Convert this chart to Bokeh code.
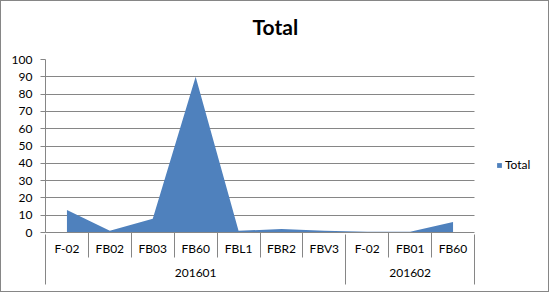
from bokeh.plotting import figure
from bokeh.models import (Range1d, FixedTicker, LinearAxis, Legend, LegendItem, Title)
from bokeh.embed import file_html
from bokeh.resources import INLINE

# ---- data ----
groups = ["201601", "201602"]
group_sizes = [7, 3]
codes = ["F-02", "FB02", "FB03", "FB60", "FBL1", "FBR2", "FBV3", "F-02", "FB01", "FB60"]
totals = [13, 1, 8, 90, 1, 2, 1, 0.5, 0.5, 6]
y_ticks = [0, 10, 20, 30, 40, 50, 60, 70, 80, 90, 100]
series_name = "Total"
chart_title = "Total"

FONT = "Lato"
GRAY = "#868686"
BLUE = "#4F81BD"

n = len(codes)
xs = [i + 0.5 for i in range(n)]

# layout: plot area 429px wide for the categories, frame extended to hold the legend
CAT_PX = 429
FRAME_PX = 501
x_end = n * FRAME_PX / CAT_PX

p = figure(width=549, height=292, output_backend="svg", toolbar_location=None,
           x_range=Range1d(0, x_end), y_range=Range1d(0, 100),
           min_border_left=44, min_border_right=4, min_border_top=58,
           min_border_bottom=61, x_axis_location=None)
p.styles = {"border": "1px solid " + GRAY}
p.outline_line_color = None
p.background_fill_color = "white"
p.border_fill_color = "white"

# real title (outermost) and a spacer title nearest the frame
p.title.text = chart_title
p.title.text_font = FONT
p.title.text_font_size = "21px"
p.title.text_font_style = "bold"
p.title.text_color = "black"
p.title.align = "left"
p.title.offset = 207
p.title.standoff = 0
spacer = Title(text=" ", text_font_size="10px", standoff=8)
p.add_layout(spacer, "above")

r = p.varea(x=xs, y1=[0] * n, y2=totals, fill_color=BLUE)

# y axis
ya = p.yaxis[0]
ya.ticker = FixedTicker(ticks=y_ticks)
ya.axis_line_color = GRAY
ya.major_tick_line_color = GRAY
ya.major_tick_out = 5
ya.major_tick_in = 0
ya.minor_tick_line_color = None
ya.major_label_text_font = FONT
ya.major_label_text_font_size = "12px"
ya.major_label_text_color = "black"
ya.major_label_standoff = 8
p.ygrid.ticker = FixedTicker(ticks=y_ticks)
p.ygrid.grid_line_color = GRAY
p.xgrid.grid_line_color = None
try:
    p.ygrid.cross_bounds = (0, n)
except Exception:
    p.ygrid.grid_line_color = None
    p.segment(x0=[0] * len(y_ticks), x1=[n] * len(y_ticks), y0=y_ticks, y1=y_ticks,
              line_color=GRAY, line_width=1)

# category axis
boundaries = list(range(n + 1))
cum = [0]
for s in group_sizes:
    cum.append(cum[-1] + s)
inner_bounds = [b for b in boundaries if b not in cum]

ax1 = LinearAxis(ticker=FixedTicker(ticks=xs, minor_ticks=inner_bounds),
                 major_label_overrides={x: c for x, c in zip(xs, codes)},
                 bounds=(0, n))
ax1.axis_line_color = GRAY
ax1.major_tick_line_color = None
ax1.major_tick_out = 0
ax1.major_tick_in = 0
ax1.minor_tick_line_color = GRAY
ax1.minor_tick_out = 25
ax1.minor_tick_in = 0
ax1.major_label_text_font = FONT
ax1.major_label_text_font_size = "12px"
ax1.major_label_text_color = "black"
ax1.major_label_standoff = -17
p.add_layout(ax1, "below")

gcenters = [(cum[i] + cum[i + 1]) / 2 for i in range(len(groups))]
ax2 = LinearAxis(ticker=FixedTicker(ticks=gcenters, minor_ticks=cum),
                 major_label_overrides={x: g for x, g in zip(gcenters, groups)},
                 bounds=(0, n))
ax2.axis_line_color = None
ax2.major_tick_line_color = None
ax2.major_tick_out = 0
ax2.major_tick_in = 0
ax2.minor_tick_line_color = GRAY
ax2.minor_tick_out = 26
ax2.minor_tick_in = 24
ax2.major_label_text_font = FONT
ax2.major_label_text_font_size = "12px"
ax2.major_label_text_color = "black"
ax2.major_label_standoff = -16
p.add_layout(ax2, "below")

legend = Legend(items=[LegendItem(label=series_name, renderers=[r])],
                location=(451, 60), orientation="vertical")
legend.label_text_font = FONT
legend.label_text_font_size = "12px"
legend.label_text_color = "black"
legend.glyph_width = 6
legend.glyph_height = 6
legend.label_standoff = 3
legend.padding = 0
legend.margin = 0
legend.spacing = 0
legend.border_line_color = None
legend.background_fill_alpha = 0
p.add_layout(legend, "center")

open("out.html", "w").write(file_html(p, INLINE))
